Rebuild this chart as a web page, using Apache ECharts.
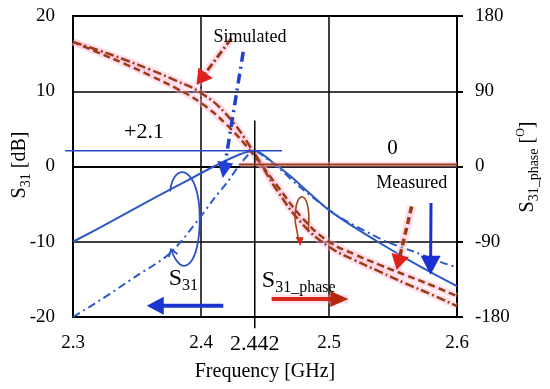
<!DOCTYPE html>
<html>
<head>
<meta charset="utf-8">
<script src="https://cdn.jsdelivr.net/npm/echarts@6/dist/echarts.min.js"></script>
<style>
html,body{margin:0;padding:0;background:#fff;}
#chart{width:550px;height:389px;}
</style>
</head>
<body>
<div id="chart"></div>
<script>
// ---- data ----
const freqS31Meas = [2.3, 2.33, 2.36, 2.39, 2.41, 2.43, 2.442, 2.455, 2.47, 2.485, 2.5, 2.52, 2.54, 2.56, 2.58, 2.6];
const s31Meas     = [-10, -7.3, -4.5, -1.8, 0.0, 1.6, 2.1, 0.7, -1.3, -3.6, -5.8, -8.1, -10.2, -12.2, -14.1, -15.9];

const freqS31Sim = [2.3, 2.32, 2.35, 2.376, 2.4, 2.41, 2.42, 2.432, 2.442, 2.45, 2.462, 2.477, 2.492, 2.507, 2.532, 2.545, 2.566, 2.589, 2.6];
const s31Sim     = [-20, -17.9, -14.5, -11.5, -6.6, -4.3, -2.2, 0.6, 2.1, 1.2, -0.4, -2.7, -4.7, -6.6, -8.9, -10.0, -11.3, -12.8, -13.4];

const freqPhase = [2.30, 2.32, 2.34, 2.36, 2.38, 2.40, 2.42, 2.44, 2.46, 2.48, 2.50, 2.52, 2.54, 2.56, 2.58, 2.60];
const phaseMeas = [149, 136, 123, 109, 94, 76, 50, 16, -24, -63, -90, -105, -118, -130, -142, -155];
const phaseSim  = [149, 139, 128, 116, 103, 88, 62, 20, -30, -70, -96, -112, -126, -140, -153, -167];

const xTickLabels = ['2.3', '2.4', '2.5', '2.6'];
const peakFreq = 2.442;
const peakGain = 2.1;

const SERIF = '"Liberation Serif","DejaVu Serif",serif';
const BLUE = '#2c58c8';
const BROWN = '#9a3c14';
const PINK = 'rgba(255,170,210,0.38)';

function zip(a, b) { return a.map((v, i) => [v, b[i]]); }

const chart = echarts.init(document.getElementById('chart'));

const option = {
  animation: false,
  backgroundColor: '#fff',
  grid: { left: 73, right: 93, top: 16, bottom: 72, show: true, borderColor: '#000', borderWidth: 2 },
  xAxis: {
    type: 'value', min: 2.3, max: 2.6, interval: 0.1,
    axisLine: { show: true, lineStyle: { color: '#000', width: 2 } },
    axisTick: { show: false },
    axisLabel: { color: '#000', fontFamily: SERIF, fontSize: 19, margin: 17,
      formatter: v => { const s = v.toFixed(1); return xTickLabels.indexOf(s) >= 0 ? s : ''; } },
    splitLine: { show: true, lineStyle: { color: '#000', width: 1.5 } },
    name: 'Frequency [GHz]', nameLocation: 'middle', nameGap: 45,
    nameTextStyle: { color: '#000', fontFamily: SERIF, fontSize: 20 }
  },
  yAxis: [
    {
      type: 'value', min: -20, max: 20, interval: 10,
      axisLine: { show: true, lineStyle: { color: '#000', width: 2 } },
      axisTick: { show: false },
      axisLabel: { color: '#000', fontFamily: SERIF, fontSize: 19, margin: 18 },
      splitLine: { show: true, lineStyle: { color: '#000', width: 1.5 } }
    },
    {
      type: 'value', min: -180, max: 180, interval: 90, position: 'right',
      axisLine: { show: true, lineStyle: { color: '#000', width: 2 } },
      axisTick: { show: true, length: 6, lineStyle: { color: '#000', width: 2 } },
      axisLabel: { color: '#000', fontFamily: SERIF, fontSize: 19, margin: 18 },
      splitLine: { show: false }
    }
  ],
  series: [
    { name: 'phase sim glow', type: 'line', yAxisIndex: 1, data: zip(freqPhase, phaseSim), smooth: 0.45,
      symbol: 'none', silent: true, lineStyle: { color: PINK, width: 7 }, z: 1 },
    { name: 'phase meas glow', type: 'line', yAxisIndex: 1, data: zip(freqPhase, phaseMeas), smooth: 0.45,
      symbol: 'none', silent: true, lineStyle: { color: PINK, width: 7 }, z: 1 },
    { name: 'S31 measured', type: 'line', data: zip(freqS31Meas, s31Meas), smooth: 0.3, symbol: 'none',
      lineStyle: { color: BLUE, width: 2 }, z: 3 },
    { name: 'S31 simulated', type: 'line', data: zip(freqS31Sim, s31Sim), smooth: 0.3, symbol: 'none',
      lineStyle: { color: BLUE, width: 2, type: [8, 4, 2, 4] }, z: 3 },
    { name: 'Phase measured', type: 'line', yAxisIndex: 1, data: zip(freqPhase, phaseMeas), smooth: 0.45, symbol: 'none',
      lineStyle: { color: BROWN, width: 2.5, type: [7, 4] }, z: 4 },
    { name: 'Phase simulated', type: 'line', yAxisIndex: 1, data: zip(freqPhase, phaseSim), smooth: 0.45, symbol: 'none',
      lineStyle: { color: BROWN, width: 2.5, type: [9, 3, 2, 3] }, z: 4 }
  ]
};
chart.setOption(option);

// ---- annotations, placed in data coordinates ----
function P(x, y) { return chart.convertToPixel({ xAxisIndex: 0, yAxisIndex: 0 }, [x, y]); }
function PR(x, y) { return chart.convertToPixel({ xAxisIndex: 0, yAxisIndex: 1 }, [x, y]); }

function arrow(from, to, color, headColor, width, dash, L, W, glow) {
  const dx = to[0] - from[0], dy = to[1] - from[1];
  const len = Math.hypot(dx, dy);
  const ux = dx / len, uy = dy / len;
  const nx = -uy, ny = ux;
  const base = [to[0] - ux * L, to[1] - uy * L];
  const els = [];
  if (glow) {
    els.push({ type: 'line', shape: { x1: from[0], y1: from[1], x2: to[0], y2: to[1] },
      style: { stroke: PINK, lineWidth: width + 5 }, z: 50 });
  }
  els.push({ type: 'line', shape: { x1: from[0], y1: from[1], x2: base[0] + ux * 2, y2: base[1] + uy * 2 },
    style: { stroke: color, lineWidth: width, lineDash: dash || null }, z: 51 });
  els.push({ type: 'polygon', shape: { points: [to, [base[0] + nx * W, base[1] + ny * W], [base[0] - nx * W, base[1] - ny * W]] },
    style: { fill: headColor }, z: 52 });
  return els;
}

function label(pos, text, size) {
  return { type: 'text', x: pos[0], y: pos[1], z: 60,
    style: { text: text, fill: '#000', font: size + 'px ' + SERIF, align: 'center', verticalAlign: 'middle',
      textAlign: 'center', textVerticalAlign: 'middle' } };
}

function bez(p0, c1, c2, p1, color, w) {
  return { type: 'bezierCurve', z: 45,
    shape: { x1: p0[0], y1: p0[1], cpx1: c1[0], cpy1: c1[1], cpx2: c2[0], cpy2: c2[1], x2: p1[0], y2: p1[1] },
    style: { stroke: color, lineWidth: w, fill: null } };
}

function chevron(from, tip, len, ang) {
  const dx = from[0] - tip[0], dy = from[1] - tip[1];
  const d = Math.hypot(dx, dy); const ux = dx / d, uy = dy / d;
  const r = (a) => [tip[0] + len * (ux * Math.cos(a) - uy * Math.sin(a)), tip[1] + len * (ux * Math.sin(a) + uy * Math.cos(a))];
  return [r(ang), tip, r(-ang)];
}

const g = [];
// vertical line at peak frequency, extending below the axis
const v1 = P(peakFreq, 6.1), v2 = P(peakFreq, -21.5);
g.push({ type: 'line', shape: { x1: v1[0], y1: v1[1], x2: v2[0], y2: v2[1] }, style: { stroke: '#000', lineWidth: 1.5 }, z: 40 });
// +2.1 dB level line
const h1 = P(2.2938, peakGain), h2 = P(2.4633, peakGain);
g.push({ type: 'line', shape: { x1: h1[0], y1: h1[1], x2: h2[0], y2: h2[1] }, style: { stroke: '#2448c8', lineWidth: 1.5 }, z: 40 });
// 0 degree phase line
const z1 = PR(2.4305, 2.5), z2 = PR(2.6, 2.5);
g.push({ type: 'line', shape: { x1: z1[0], y1: z1[1], x2: z2[0], y2: z2[1] }, style: { stroke: PINK, lineWidth: 6 }, z: 39 });
g.push({ type: 'line', shape: { x1: z1[0], y1: z1[1], x2: z2[0], y2: z2[1] }, style: { stroke: BROWN, lineWidth: 2 }, z: 40 });

// text labels
g.push(label(P(2.3555, 4.6), '+2.1', 22));
g.push(label(P(2.5497, 2.4), '0', 21));
g.push(label(P(2.4383, 17.22), 'Simulated', 18));
g.push(label(P(2.5646, -2.18), 'Measured', 18));
g.push(label(P(peakFreq, -23.6), '2.442', 22));

// Simulated arrows
g.push(...arrow(P(2.4238, 17.04), P(2.3966, 10.85), BROWN, '#e0201a', 3, [8, 3, 2, 3], 15, 9, true));
g.push(...arrow(P(2.4330, 15.23), P(2.4170, -1.54), '#2040d0', '#2040d0', 3.5, [10, 5, 2, 5], 16, 8, false));
// Measured arrows
g.push(...arrow(P(2.5646, -5.31), P(2.5529, -13.72), BROWN, '#e0201a', 3.5, [7, 4], 15, 9, true));
g.push(...arrow(P(2.5797, -4.86), P(2.5793, -14.38), '#1a30d0', '#1a30d0', 3, null, 19, 10, false));
// direction arrows at bottom
g.push(...arrow(P(2.4174, -18.5), P(2.3576, -18.5), '#1a35d0', '#1a35d0', 4, null, 17, 9, false));
g.push(...arrow(P(2.4552, -17.6), P(2.5151, -17.6), '#d42a1a', '#b8260c', 4, null, 18, 8, true));

// loop around S31 curves
const a0 = P(2.3758, -3.3), a1 = P(2.3789, 0.9), a2 = P(2.3985, 0.0), a3 = P(2.3990, -6.6);
const a4 = P(2.3995, -13.2), a5 = P(2.3850, -15.2), a6 = P(2.3766, -11.0);
g.push(bez(a0, a1, a2, a3, '#2c50c8', 1.8));
g.push(bez(a3, a4, a5, a6, '#2c50c8', 1.8));
g.push({ type: 'polyline', z: 45, shape: { points: chevron(a5, a6, 8, 0.6) }, style: { stroke: '#2c50c8', lineWidth: 1.8, fill: null } });

// loop around phase curves
const b0 = PR(2.4836, -78), b1 = PR(2.4875, -28), b2 = PR(2.4730, -22), b3 = PR(2.4735, -65);
const b4 = PR(2.4760, -86);
g.push(bez(b0, b1, b2, b3, '#a8401a', 1.6));
g.push({ type: 'line', z: 45, shape: { x1: b3[0], y1: b3[1], x2: b4[0], y2: b4[1] }, style: { stroke: '#a8401a', lineWidth: 1.6 } });
const bt = PR(2.4775, -95), bl = PR(2.4738, -84), br = PR(2.4802, -85);
g.push({ type: 'polygon', z: 46, shape: { points: [bt, bl, br] }, style: { fill: '#d0301a' } });

// S31 labels (rich text with subscripts)
const rich = {
  m: { fontSize: 24, fontFamily: SERIF, fill: '#000', color: '#000', lineHeight: 30 },
  s: { fontSize: 16, fontFamily: SERIF, fill: '#000', color: '#000', lineHeight: 14, verticalAlign: 'bottom' }
};
const lS = P(2.3862, -14.9);
g.push({ type: 'text', x: lS[0], y: lS[1], z: 60, style: { text: '{m|S}{s|31}', rich: rich,
  align: 'center', verticalAlign: 'middle', textAlign: 'center', textVerticalAlign: 'middle' } });
const lP = P(2.4475, -15.2);
g.push({ type: 'text', x: lP[0], y: lP[1], z: 60, style: { text: '{m|S}{s|31_phase}', rich: rich,
  align: 'left', verticalAlign: 'middle', textAlign: 'left', textVerticalAlign: 'middle' } });

// axis titles (rotated)
const richT = {
  m: { fontSize: 20, fontFamily: SERIF, fill: '#000', color: '#000', lineHeight: 26 },
  s: { fontSize: 14, fontFamily: SERIF, fill: '#000', color: '#000', lineHeight: 12, verticalAlign: 'bottom' },
  u: { fontSize: 12, fontFamily: SERIF, fill: '#000', color: '#000', lineHeight: 12, verticalAlign: 'top' }
};
g.push({ type: 'text', x: 20, y: 165, rotation: Math.PI / 2, z: 60, style: { text: '{m|S}{s|31}{m| [dB]}', rich: richT,
  align: 'center', verticalAlign: 'middle', textAlign: 'center', textVerticalAlign: 'middle' } });
g.push({ type: 'text', x: 528, y: 167, rotation: Math.PI / 2, z: 60, style: { text: '{m|S}{s|31_phase}{m| [}{u|O}{m|]}', rich: richT,
  align: 'center', verticalAlign: 'middle', textAlign: 'center', textVerticalAlign: 'middle' } });

chart.setOption({ graphic: { elements: g } });
</script>
</body>
</html>
